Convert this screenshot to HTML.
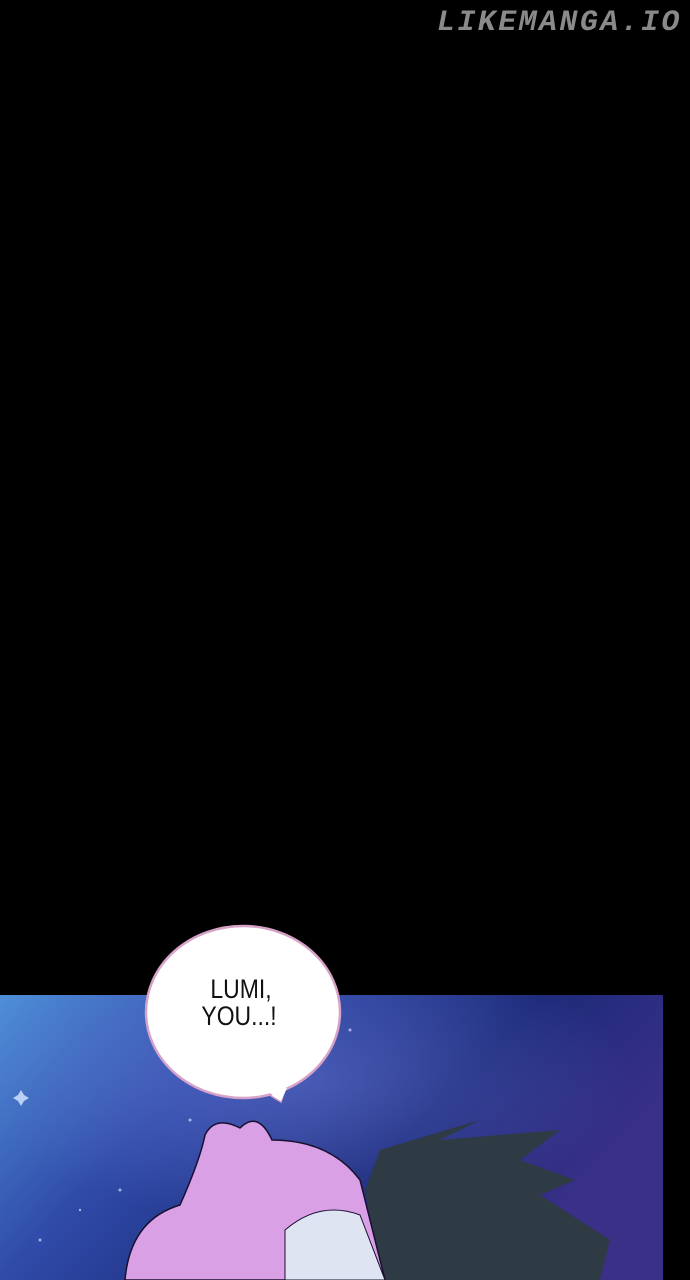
<!DOCTYPE html>
<html><head><meta charset="utf-8"><style>
html,body{margin:0;padding:0;background:#000;width:690px;height:1280px;overflow:hidden;position:relative}
.wm{position:absolute;left:437px;top:6px;font-family:"Liberation Mono",monospace;font-weight:bold;font-style:italic;font-size:30px;color:#8a8a8a;letter-spacing:2.4px}
svg{position:absolute;left:0;top:0}
</style></head><body>
<div class="wm">LIKEMANGA.IO</div>
<svg width="690" height="1280" viewBox="0 0 690 1280">
<defs>
<linearGradient id="sky" x1="0" y1="0" x2="1" y2="0.4">
<stop offset="0" stop-color="#4f8fd8"/><stop offset="0.35" stop-color="#2f4aa8"/><stop offset="0.7" stop-color="#1c2a78"/><stop offset="1" stop-color="#3a3088"/>
</linearGradient>
<radialGradient id="glow" cx="0.45" cy="0.3" r="0.5"><stop offset="0" stop-color="#6a7ad8" stop-opacity="0.5"/><stop offset="1" stop-color="#6a7ad8" stop-opacity="0"/></radialGradient>
</defs>
<rect x="0" y="995" width="663" height="285" fill="url(#sky)"/>
<rect x="0" y="995" width="663" height="285" fill="url(#glow)"/>
<g fill="#cfe0ff" opacity="0.7">
<circle cx="260" cy="1150" r="2"/><circle cx="190" cy="1120" r="1.5"/><circle cx="120" cy="1190" r="1.5"/><circle cx="80" cy="1210" r="1.2"/><circle cx="300" cy="1080" r="1.2"/><circle cx="350" cy="1030" r="1.5"/><circle cx="40" cy="1240" r="1.5"/><circle cx="150" cy="1230" r="1.2"/>
</g>
<path d="M18 1095 L21 1090 L24 1095 L29 1098 L24 1101 L21 1106 L18 1101 L13 1098 Z" fill="#d8e8ff" opacity="0.8"/>
<!-- dark hair -->
<path d="M365 1190 L380 1150 L480 1120 L440 1140 L560 1130 L520 1160 L575 1180 L540 1195 L610 1240 L600 1280 L380 1280 Z" fill="#2e3a44"/>
<!-- pink hair -->
<path d="M205 1135 Q215 1115 240 1128 Q258 1110 272 1140 Q330 1140 360 1180 L385 1280 L125 1280 Q130 1220 180 1205 Q200 1160 205 1135 Z" fill="#d9a0e6" stroke="#1a1030" stroke-width="1.5"/>
<path d="M285 1230 Q320 1200 360 1215 L385 1280 L285 1280 Z" fill="#dfe4f2" stroke="#1a1030" stroke-width="1"/>
<!-- bubble -->
<path d="M268 1094 L281 1102 L285 1090 Z" fill="#fff" stroke="#d7a2c8" stroke-width="1.5"/>
<ellipse cx="243" cy="1012" rx="97" ry="86" fill="#fff" stroke="#d7a2c8" stroke-width="2.5"/>
<path d="M266 1090 L281 1101 L287 1088 Z" fill="#fff"/>
<g font-family="Liberation Sans Narrow, Liberation Sans, sans-serif" font-size="27" fill="#111">
<text x="241" y="998" text-anchor="middle" transform="translate(241 0) scale(0.85 1) translate(-241 0)">LUMI,</text>
<text x="239" y="1025" text-anchor="middle" transform="translate(239 0) scale(0.85 1) translate(-239 0)">YOU...!</text>
</g>
</svg>
</body></html>
